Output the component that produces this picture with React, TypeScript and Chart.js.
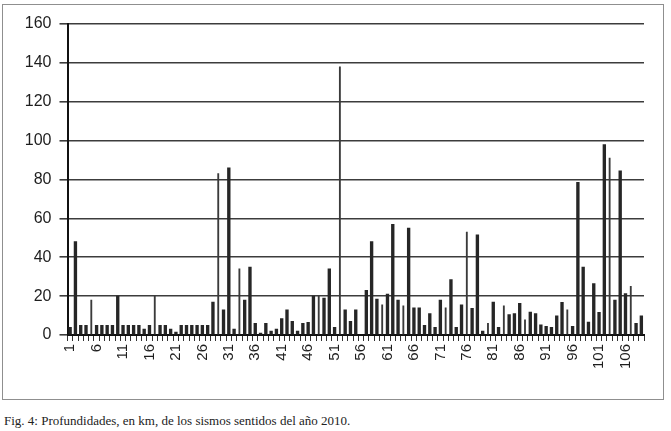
import React, { useEffect, useRef } from "react";
import { Chart, registerables } from "chart.js";

Chart.register(...registerables);

// Earthquake index 1..109
const categories: string[] = Array.from({ length: 109 }, (_, i) => String(i + 1));

// Depth (km) of each felt earthquake, 2010
const depths: number[] = [
  4, 48, 5, 5, 18, 5, 5, 5, 5, 20,
  5, 5, 5, 5, 3, 5, 20, 5, 5, 3,
  1.5, 5, 5, 5, 5, 5, 5, 17, 83, 13,
  86, 3, 34, 18, 35, 6, 1, 6, 2, 3,
  8.5, 13, 7, 2, 6, 6.5, 20, 20, 19, 34,
  4, 138, 13, 7, 13, 0, 23, 48, 18.5, 15.5,
  21, 57, 18, 15, 55, 14, 14, 5, 11, 4,
  18, 14, 28.5, 4, 15.5, 53, 13.7, 51.5, 2, 6,
  17, 4, 15, 10.5, 11, 16.3, 7.8, 11.8, 11, 5.2,
  4.5, 4, 9.8, 16.8, 13, 4.5, 78.5, 35, 6.6, 26.5,
  11.7, 98, 91, 18, 84.5, 21.3, 25, 6, 9.8,
];

// Bars that appear as hairlines in the source figure (1-based category numbers)
const hairlineBars: number[] = [5, 17, 29, 33, 48, 52, 60, 64, 72, 76, 80, 83, 87, 95, 103, 107];

const yTicks: number[] = [0, 20, 40, 60, 80, 100, 120, 140, 160];

export default function App() {
  const ref = useRef<HTMLCanvasElement | null>(null);

  useEffect(() => {
    if (!ref.current) return;
    const thin = new Set(hairlineBars.map((n) => n - 1));
    const thickData = depths.map((v, i) => (thin.has(i) ? null : v));
    const thinData = depths.map((v, i) => (thin.has(i) ? v : null));

    const chart = new Chart(ref.current, {
      type: "bar",
      data: {
        labels: categories,
        datasets: [
          {
            data: thickData as any,
            backgroundColor: "#262626",
            barThickness: 2.7,
            grouped: false,
          } as any,
          {
            data: thinData as any,
            backgroundColor: "#3a3a3a",
            barThickness: 1.2,
            grouped: false,
          } as any,
        ],
      },
      options: {
        animation: false,
        responsive: false,
        devicePixelRatio: 1,
        layout: { padding: { top: 24, right: 27, left: 0, bottom: 0 } },
        plugins: { legend: { display: false }, tooltip: { enabled: false } },
        scales: {
          x: {
            offset: true,
            grid: {
              display: true,
              drawOnChartArea: false,
              drawTicks: true,
              tickLength: 6,
              color: "#333",
              lineWidth: 1,
              offset: true,
            },
            border: { display: true, color: "#111", width: 2 },
            ticks: {
              autoSkip: false,
              minRotation: 90,
              maxRotation: 90,
              padding: 3,
              color: "#1e1e1e",
              font: { family: "'Liberation Sans', Arial, sans-serif", size: 15 },
              callback: (_v: any, i: number) => (i % 5 === 0 ? categories[i] : ""),
            },
            afterFit: (s: any) => {
              s.height = 65;
            },
          },
          y: {
            min: yTicks[0],
            max: yTicks[yTicks.length - 1],
            afterBuildTicks: (s: any) => {
              s.ticks = yTicks.map((v) => ({ value: v }));
            },
            grid: { color: "#3c3c3c", lineWidth: 1.6, tickLength: 8, drawTicks: true },
            border: { display: true, color: "#111", width: 2 },
            ticks: {
              padding: 8,
              color: "#1e1e1e",
              font: { family: "'Liberation Sans', Arial, sans-serif", size: 16 },
            },
            afterFit: (s: any) => {
              s.width = 67.5;
            },
          },
        },
      },
    });
    return () => chart.destroy();
  }, []);

  return (
    <div>
      <div style={{ position: "absolute", left: 0, top: 0, width: 671, height: 400 }}>
        <canvas ref={ref} width={671} height={400} style={{ width: 671, height: 400, display: "block" }} />
      </div>
      <div
        style={{
          position: "absolute",
          left: 2,
          top: 4,
          width: 662,
          height: 396,
          boxSizing: "border-box",
          border: "1px solid #8f8f8f",
          pointerEvents: "none",
        }}
      />
      <div
        style={{
          position: "absolute",
          left: 4,
          top: 413,
          fontFamily: "'Liberation Serif', 'Times New Roman', serif",
          fontSize: 13,
          lineHeight: "15px",
          color: "#222",
          whiteSpace: "nowrap",
        }}
      >
        Fig. 4: Profundidades, en km, de los sismos sentidos del año 2010.
      </div>
    </div>
  );
}
